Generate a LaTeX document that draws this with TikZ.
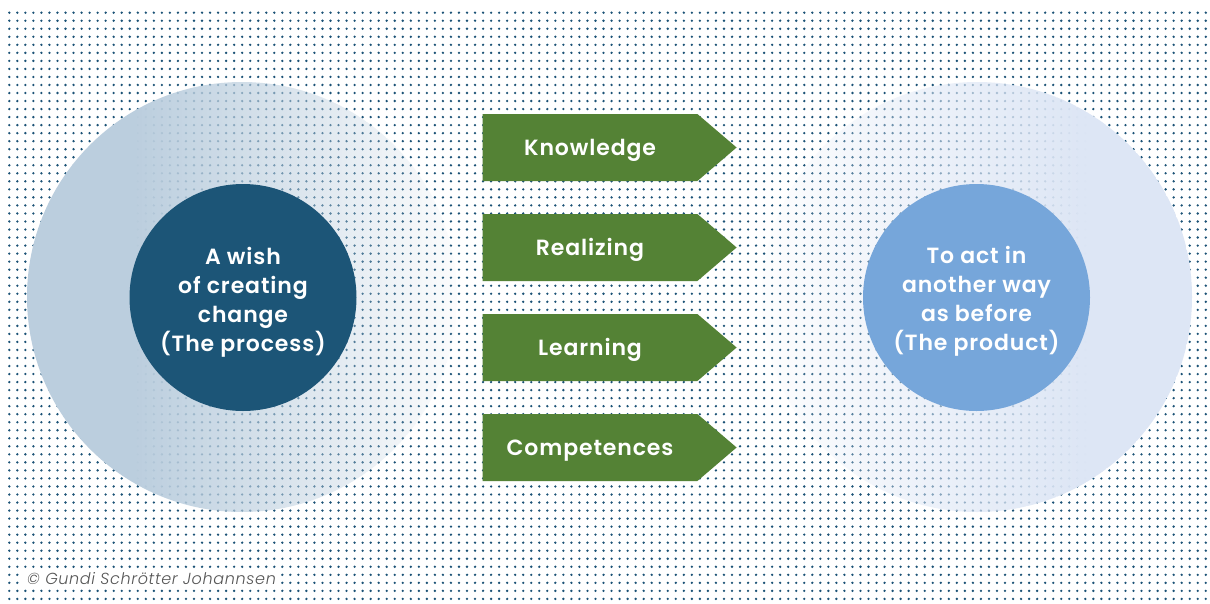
\documentclass[tikz,border=0pt]{standalone}
\usepackage{fontspec}
\setmainfont{Poppins}[UprightFont=* Medium, BoldFont=* SemiBold, ItalicFont=* Light Italic, LetterSpace=4]
\usepackage{tikz}
\usetikzlibrary{positioning,shapes.symbols}

\definecolor{dotblue}{HTML}{1B5276}
\definecolor{processblue}{HTML}{1C5577}
\definecolor{productblue}{HTML}{76A6DA}
\definecolor{leftring}{HTML}{BBCEDE}
\definecolor{rightring}{HTML}{DDE6F5}
\definecolor{stepgreen}{HTML}{548235}
\definecolor{creditgray}{HTML}{555555}

\begin{document}
\begin{tikzpicture}[
  x=1pt, y=-1pt,
  dotrow/.style={dotblue, line width=2.6pt, line cap=round, dash pattern=on 0pt off 8.03pt},
  core/.style={circle, minimum size=227pt, inner sep=0pt},
  coretext/.style={text=white, align=center, font=\bfseries\fontsize{22}{29}\selectfont},
  stepbox/.style={signal, signal to=east, signal pointer angle=81, fill=stepgreen,
    minimum width=254pt, minimum height=67pt, inner sep=0pt, text=white,
    text height=15.4pt, text depth=0pt, font=\bfseries\fontsize{22}{25}\selectfont}
]
\fill[white] (0,0) rectangle (1210,603);
\useasboundingbox (0,0) rectangle (1210,603);

% dotted backdrop
\foreach \r in {0,...,73}
  \draw[dotrow] (9.3,12.7+8.03*\r) -- (1208,12.7+8.03*\r);

% outer rings, solid outside and thinning towards the middle (5pt strips)
\begin{scope}
  \clip (242,297) circle (215);
  \foreach \s [evaluate=\s as \op using {min(1,max(0,(470-27-5*\s)/340))}] in {0,...,86}
    \fill[leftring, opacity=\op] (27+5*\s,80) rectangle ++(5,440);
\end{scope}
\begin{scope}
  \clip (977,297) circle (215);
  \foreach \s [evaluate=\s as \op using {min(1,max(0,(762+5*\s+5-750)/340))}] in {0,...,86}
    \fill[rightring, opacity=\op] (762+5*\s,80) rectangle ++(5,440);
\end{scope}

% the two cores
\node[core, fill=processblue] (process) at (243,297.5) {};
\node[coretext] (processtext) at ([yshift=-5pt]process.center)
  {A wish\\of creating\\change\\(The process)};
\node[core, fill=productblue] (product) at (976.5,297.5) {};
\node[coretext] (producttext) at ([yshift=-4pt]product.center)
  {To act in\\another way\\as before\\(The product)};

% steps between them
\foreach \word [count=\i] in {Knowledge,Realizing,Learning,Competences}
  \node[stepbox] (step\i) at (590,47.5+100*\i) {\word};

% credit line
\node[fill=white, anchor=west, inner sep=3pt, text=creditgray,
  font=\itshape\fontsize{16}{16}\selectfont] (credit) at (24,579) {© Gundi Schrötter Johannsen};
\end{tikzpicture}
\end{document}
